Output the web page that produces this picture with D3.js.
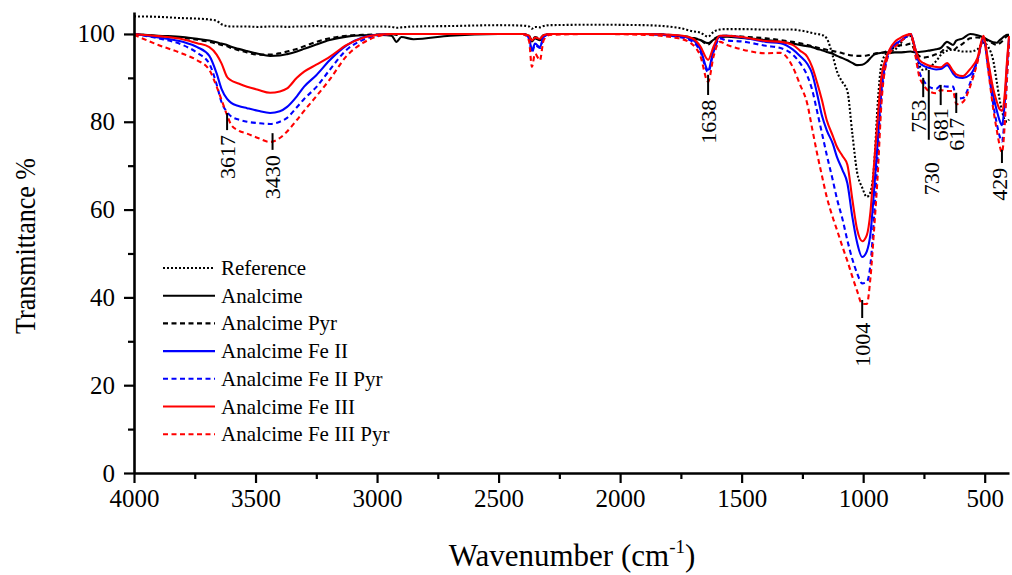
<!DOCTYPE html>
<html>
<head>
<meta charset="utf-8">
<script src="https://cdn.jsdelivr.net/npm/d3@7"></script>
<style>
  body { margin: 0; background: #fff; }
  svg { display: block; font-family: "Liberation Serif", "Times New Roman", serif; }
  .axis path, .axis line { stroke: #000; }
  .axis text { font-family: "Liberation Serif", serif; fill: #000; }
</style>
</head>
<body>
<div id="chart"></div>
<script>
// wavenumber grid (cm-1) shared by every spectrum
const wavenumber = [4000, 3900, 3800, 3740, 3690, 3660, 3640, 3617, 3600, 3570,
  3535, 3490, 3440, 3400, 3370, 3330, 3300, 3250, 3195, 3125,
  3060, 2980, 2940, 2920, 2900, 2850, 2700, 2500, 2400, 2375,
  2363, 2350, 2330, 2315, 2290, 2100, 1900, 1760, 1700, 1670,
  1638, 1615, 1590, 1560, 1500, 1400, 1340, 1290, 1260, 1230,
  1210, 1190, 1170, 1150, 1125, 1108, 1085, 1065, 1045, 1025,
  1004, 985, 970, 955, 940, 925, 905, 890, 870, 850,
  825, 805, 785, 770, 753, 730, 700, 681, 655, 630,
  617, 590, 560, 530, 505, 485, 465, 450, 440, 429,
  418, 408, 400];

// transmittance % for each sample
const reference = [104, 103.9, 103.6, 103.5, 103.3, 103, 102.2, 101.8, 101.7, 101.7,
  101.7, 101.6, 101.7, 101.7, 101.6, 101.7, 101.7, 101.8, 101.7, 101.7,
  101.7, 101.7, 101.6, 101.4, 101.5, 101.7, 101.8, 102, 101.9, 101.7,
  101.2, 101.6, 101.5, 101.8, 102, 102.1, 102, 101.4, 100.6, 100.3,
  99.4, 100.5, 101, 101.1, 101.1, 101, 101, 101, 100.8, 100.5,
  100.2, 100, 99.8, 99, 95, 91.5, 89, 87, 77.5, 68.5,
  65, 62.9, 64, 70, 84.3, 93, 95.5, 96, 96.4, 97.5,
  99.3, 99.5, 96, 93, 91.8, 92.3, 93.8, 95.2, 96.2, 96.4,
  96.3, 96, 96, 96.5, 98, 97, 94, 89, 85.5, 82.5,
  80.5, 80, 80.5];

const analcime = [100, 99.6, 99.3, 98.9, 98.5, 98.1, 97.8, 97.5, 97.1, 96.6,
  96.1, 95.5, 95.0, 95.1, 95.4, 96, 96.6, 97.6, 98.6, 99.4,
  99.7, 99.8, 99.6, 98.2, 99.3, 98.8, 99.6, 100, 100, 99.5,
  98.3, 99, 98.6, 99.6, 100, 100, 100, 99.5, 99, 98.6,
  97.9, 98.7, 99.3, 99.4, 99.1, 98.6, 98.2, 97.8, 97.5, 97.2,
  97, 96.6, 96.3, 95.9, 95.5, 95, 94.5, 94, 93.4, 92.9,
  93, 93.6, 94.5, 95.3, 95.6, 95.7, 95.8, 95.7, 95.8, 95.8,
  95.9, 96, 95.8, 95.9, 96, 96.2, 96.5, 96.8, 98.2, 97.5,
  98.5, 99, 100, 99.7, 99.2, 98.6, 98.1, 98, 98.5, 99,
  99.5, 99.8, 99.8];

const analcimePyr = [100, 99.5, 99.1, 98.7, 98.2, 97.8, 97.5, 97.2, 96.8, 96.3,
  95.8, 95.3, 95.3, 95.6, 96, 96.6, 97.2, 98.2, 99, 99.6,
  99.8, 99.9, 100, 99.8, 100, 100, 100, 100, 100, 99.6,
  98.6, 99.3, 99, 99.7, 100, 100, 100, 99.6, 99.1, 98.6,
  97.6, 98.8, 99.5, 99.6, 99.4, 99, 98.6, 98.2, 97.9, 97.5,
  97.2, 96.9, 96.7, 96.4, 96.1, 95.9, 95.6, 95.3, 95.1, 95,
  95, 95.1, 95.3, 95.5, 95.6, 95.7, 96, 96.4, 97, 97.4,
  97.5, 97.8, 96, 95, 94.6, 94.8, 95.4, 95.8, 97, 96.2,
  96.8, 97.8, 99, 99.2, 99, 98.4, 97.8, 97.5, 97.8, 98.3,
  99, 99.5, 99.7];

const analcimeFe2 = [100, 99.2, 98.2, 97, 95, 91, 87.5, 85.2, 84.3, 83.6,
  83.1, 82.5, 82.0, 82.4, 83.4, 85.8, 88.0, 90.6, 94.0, 97.4,
  99.2, 99.9, 100, 100, 100, 100, 100, 100, 100, 99.2,
  96.2, 97.8, 97.0, 99.3, 100, 100, 100, 99.6, 98.6, 96.5,
  91.8, 96.5, 99.5, 99.6, 99.2, 98.2, 97.9, 96.5, 95, 93.2,
  91, 86.5, 81.5, 78.1, 75, 72, 69, 66, 58.5, 52.5,
  49.2, 50.5, 54.5, 64.5, 75.5, 87, 94.2, 96.4, 97.6, 98.3,
  99.3, 100, 96.5, 93.5, 92.8, 92.3, 91.9, 92, 92.9, 91,
  90.2, 90, 90.7, 94, 99, 93, 86, 82.5, 80.5, 79.2,
  84, 93, 99];

const analcimeFe2Pyr = [100, 99, 97.5, 95.7, 93.2, 88.5, 84.5, 82.2, 81.2, 80.5,
  80.0, 79.7, 79.5, 80, 80.9, 83.3, 85.2, 87.9, 91.8, 96.4,
  98.6, 99.8, 100, 100, 100, 100, 100, 100, 100, 99,
  95.8, 97.5, 96.8, 99.2, 100, 100, 100, 99.3, 98.2, 96,
  91.3, 96, 99, 98.5, 98.3, 97.3, 96.8, 95.3, 93.4, 90.5,
  87.3, 82.5, 77.5, 72.5, 66.7, 62.5, 57.8, 53, 48.8, 45.5,
  43.2, 43.5, 47.5, 58.5, 72.5, 85.5, 93.5, 96, 97.3, 98.2,
  99.3, 100, 95.5, 91.5, 89.5, 88, 87.5, 88.2, 88, 88,
  85.3, 85.4, 88.8, 94, 98.8, 92, 84, 79.5, 77, 75.5,
  81, 91, 98];

const analcimeFe3 = [100, 99.5, 98.8, 97.9, 97, 95.3, 93.3, 90.2, 89.4, 88.7,
  88, 87.3, 86.6, 86.9, 87.6, 90, 91.4, 93, 94.8, 97.5,
  99.1, 99.9, 100, 100, 100, 100, 100, 100, 100, 99.6,
  98.5, 99.2, 98.9, 99.7, 100, 100, 100, 99.7, 98.9, 97.2,
  94.1, 97.2, 99.6, 99.6, 99.3, 98.4, 98.2, 97.5, 96.2, 94.8,
  92.5, 89, 85, 80.4, 76.8, 74.3, 72.2, 70.2, 62.5, 55.5,
  52.8, 54.2, 59.5, 70.5, 81, 90.2, 94.6, 96.6, 98.2, 99,
  99.7, 100, 96.5, 94.2, 93.4, 92.8, 92.5, 92.4, 93.4, 91.6,
  90.8, 90.4, 92, 94.5, 99.6, 93.5, 87.5, 84.5, 83, 82.5,
  86, 94, 99.5];

const analcimeFe3Pyr = [99.8, 97.5, 95.5, 94, 91.8, 88, 85, 81.5, 79.3, 78,
  77.3, 76.3, 75.4, 76.3, 77.8, 80.4, 82.5, 85.8, 89.6, 95,
  97.9, 99.7, 100, 100, 100, 100, 100, 100, 100, 98.5,
  92.5, 95.5, 94, 98.5, 99.8, 100, 99.8, 99, 97.5, 95,
  89.1, 95, 98.2, 97.5, 96.5, 95.6, 95.7, 92.5, 88.5, 84.1,
  78.5, 72.9, 67.8, 62.9, 58.2, 55.4, 51.5, 48.3, 44.8, 41.5,
  38.5, 38.5, 44.5, 55.5, 68, 84, 93.5, 95.7, 97, 98,
  99.3, 100, 95, 90.5, 88.5, 87, 86.5, 87.2, 87, 87,
  84, 84.5, 88, 93.5, 99, 91.5, 83, 78, 75, 73,
  79, 90, 97.5];

const seriesNames = ["Reference", "Analcime", "Analcime Pyr", "Analcime Fe II",
  "Analcime Fe II Pyr", "Analcime Fe III", "Analcime Fe III Pyr"];
const seriesValues = [reference, analcime, analcimePyr, analcimeFe2,
  analcimeFe2Pyr, analcimeFe3, analcimeFe3Pyr];
const seriesColors = ["#000", "#000", "#000", "#0000ff", "#0000ff", "#ff0000", "#ff0000"];
const seriesDash = ["2,2", null, "5,3.5", null, "5,3.5", null, "5,3.5"];

// tick labels
const xMajor = [4000, 3500, 3000, 2500, 2000, 1500, 1000, 500];
const xMinor = [3750, 3250, 2750, 2250, 1750, 1250, 750];
const yMajor = [0, 20, 40, 60, 80, 100];
const yMinor = [10, 30, 50, 70, 90];

// peak labels: wavenumber, marker top/bottom (T %), where the text ends (T %)
const peaks = [3617, 3430, 1638, 1004, 753, 730, 681, 617, 429];
const peakTop = [82, 77.4, 90.7, 39.4, 90, 91.8, 88.4, 86.6, 73.6];
const peakBottom = [78.1, 73.6, 86.1, 35.3, 85.6, 75.9, 83.8, 82, 70.6];
const peakTextAt = [77, 72.4, 85, 34.2, 85, 70.8, 83.1, 80.9, 69.5];
const peakShift = [0, 0, 0, 0, -5, 3, 0, 0, -3];

const width = 1012, height = 575;
const svg = d3.select("#chart").append("svg")
    .attr("width", width)
    .attr("height", height);

const x = d3.scaleLinear().domain([4000, 400]).range([134, 1009]);
const y = d3.scaleLinear().domain([0, 105]).range([473, 12]);

// Lines
const line = d3.line()
    .x(d => x(d[0]))
    .y(d => y(d[1]))
    .curve(d3.curveMonotoneX);

seriesValues.forEach((vals, i) => {
    const pts = wavenumber.map((w, j) => [w, vals[j]]);
    svg.append("path")
        .attr("d", line(pts))
        .attr("fill", "none")
        .attr("stroke", seriesColors[i])
        .attr("stroke-width", 2.1)
        .attr("stroke-dasharray", seriesDash[i]);
});

// Axes
const fontTick = 25;
function styleAxis(g) {
    g.select(".domain").attr("stroke-width", 2.6);
    g.selectAll(".tick line").attr("stroke-width", 2.2);
    g.selectAll("text").style("font-size", fontTick + "px");
}

svg.append("g").attr("class", "axis")
    .attr("transform", "translate(0,473)")
    .call(d3.axisBottom(x).tickValues(xMinor).tickSize(6).tickSizeOuter(0).tickFormat(""))
    .call(g => g.select(".domain").remove())
    .call(styleAxis);
svg.append("g").attr("class", "axis")
    .attr("transform", "translate(0,473)")
    .call(d3.axisBottom(x).tickValues(xMajor).tickSize(10).tickPadding(6).tickSizeOuter(0).tickFormat(d3.format("d")))
    .call(styleAxis);

svg.append("g").attr("class", "axis")
    .attr("transform", "translate(134,0)")
    .call(d3.axisLeft(y).tickValues(yMinor).tickSize(6).tickSizeOuter(0).tickFormat(""))
    .call(g => g.select(".domain").remove())
    .call(styleAxis);
svg.append("g").attr("class", "axis")
    .attr("transform", "translate(134,0)")
    .call(d3.axisLeft(y).tickValues(yMajor).tickSize(10).tickPadding(9).tickSizeOuter(0).tickFormat(d3.format("d")))
    .call(styleAxis);

// Axis titles
svg.append("text")
    .attr("transform", "translate(35,246) rotate(-90) scale(1,1.15)")
    .attr("text-anchor", "middle")
    .style("font-size", "26px")
    .text("Transmittance %");

const xt = svg.append("text")
    .attr("x", 572)
    .attr("y", 566)
    .attr("text-anchor", "middle")
    .style("font-size", "31px");
xt.append("tspan").text("Wavenumber (cm");
xt.append("tspan").attr("dy", -13).style("font-size", "19px").text("-1");
xt.append("tspan").attr("dy", 13).text(")");

// Peak markers
peaks.forEach((p, i) => {
    const px = x(p);
    svg.append("line")
        .attr("x1", px).attr("x2", px)
        .attr("y1", y(peakTop[i])).attr("y2", y(peakBottom[i]))
        .attr("stroke", "#000")
        .attr("stroke-width", 2);
    svg.append("text")
        .attr("transform", `translate(${px + peakShift[i]},${y(peakTextAt[i])}) rotate(-90)`)
        .attr("text-anchor", "end")
        .attr("dy", "0.35em")
        .style("font-size", "22px")
        .text(p);
});

// Legend
const legend = svg.append("g").attr("transform", "translate(163,275)");
seriesNames.forEach((name, i) => {
    const row = legend.append("g").attr("transform", `translate(0,${i * 27.7})`);
    row.append("line")
        .attr("x1", 0).attr("x2", 52)
        .attr("y1", -7).attr("y2", -7)
        .attr("stroke", seriesColors[i])
        .attr("stroke-width", 2.1)
        .attr("stroke-dasharray", seriesDash[i]);
    row.append("text")
        .attr("x", 58)
        .style("font-size", "21px")
        .text(name);
});
</script>
</body>
</html>
